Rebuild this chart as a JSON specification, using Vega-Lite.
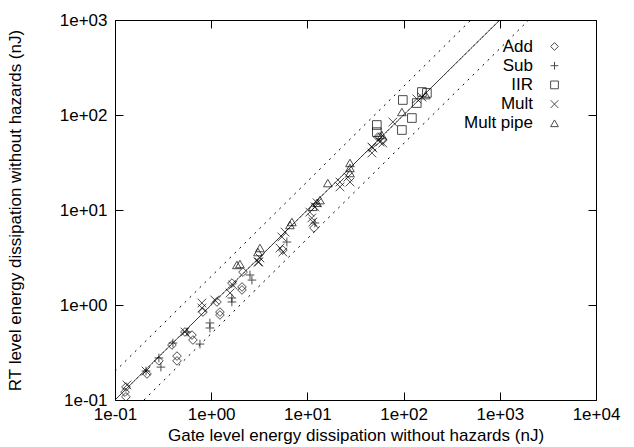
{
  "$schema": "https://vega.github.io/schema/vega-lite/v6.json",
  "autosize": {"type": "none"},
  "width": 481,
  "height": 380,
  "padding": {"left": 115, "top": 20, "right": 38, "bottom": 47},
  "background": "white",
  "config": {
    "view": {"stroke": "black", "strokeWidth": 1},
    "font": "Liberation Sans",
    "axis": {
      "domain": false, "grid": false, "tickColor": "black", "tickSize": -8, "tickWidth": 1, "labelFlush": false,
      "labelFont": "Liberation Sans", "labelFontSize": 17, "labelColor": "black",
      "titleFont": "Liberation Sans", "titleFontSize": 17, "titleFontWeight": "normal", "titleColor": "black"
    }
  },
  "datasets": {
    "refs": [
      {"line": "equal", "x": 0.1, "y": 0.1}, {"line": "equal", "x": 1000, "y": 1000},
      {"line": "upper", "x": 0.1, "y": 0.2}, {"line": "upper", "x": 500, "y": 1000},
      {"line": "lower", "x": 0.2, "y": 0.1}, {"line": "lower", "x": 2000, "y": 1000}
    ],
    "pts": [
      {"s": "Add", "x": 0.130, "y": 0.108}, {"s": "Add", "x": 0.127, "y": 0.121}, {"s": "Add", "x": 0.130, "y": 0.137},
      {"s": "Add", "x": 0.215, "y": 0.188}, {"s": "Add", "x": 0.286, "y": 0.258}, {"s": "Add", "x": 0.441, "y": 0.290},
      {"s": "Add", "x": 0.441, "y": 0.258}, {"s": "Add", "x": 0.391, "y": 0.379}, {"s": "Add", "x": 0.631, "y": 0.483},
      {"s": "Add", "x": 0.646, "y": 0.428}, {"s": "Add", "x": 0.533, "y": 0.52}, {"s": "Add", "x": 0.82, "y": 0.843},
      {"s": "Add", "x": 1.148, "y": 1.076}, {"s": "Add", "x": 1.233, "y": 0.843}, {"s": "Add", "x": 1.233, "y": 0.785},
      {"s": "Add", "x": 1.644, "y": 1.70}, {"s": "Add", "x": 2.09, "y": 1.547}, {"s": "Add", "x": 2.09, "y": 1.44},
      {"s": "Add", "x": 2.14, "y": 2.22}, {"s": "Add", "x": 5.56, "y": 3.79}, {"s": "Add", "x": 11.7, "y": 6.47},
      {"s": "Add", "x": 56.6, "y": 58.6}, {"s": "Add", "x": 60.8, "y": 54.5}, {"s": "Add", "x": 54, "y": 58.6},
      {"s": "Sub", "x": 0.21, "y": 0.202}, {"s": "Sub", "x": 0.30, "y": 0.222}, {"s": "Sub", "x": 0.286, "y": 0.277},
      {"s": "Sub", "x": 0.40, "y": 0.398}, {"s": "Sub", "x": 0.56, "y": 0.52}, {"s": "Sub", "x": 0.764, "y": 0.388},
      {"s": "Sub", "x": 0.97, "y": 0.647}, {"s": "Sub", "x": 0.97, "y": 0.573}, {"s": "Sub", "x": 1.64, "y": 1.186},
      {"s": "Sub", "x": 1.64, "y": 1.076}, {"s": "Sub", "x": 2.53, "y": 2.07}, {"s": "Sub", "x": 2.65, "y": 1.83},
      {"s": "Sub", "x": 6.12, "y": 4.6}, {"s": "Sub", "x": 11.97, "y": 7.3},
      {"s": "IIR", "x": 174.6, "y": 170.6}, {"s": "IIR", "x": 155, "y": 174.6}, {"s": "IIR", "x": 137, "y": 133.6},
      {"s": "IIR", "x": 98.2, "y": 143.9}, {"s": "IIR", "x": 121.9, "y": 92.9}, {"s": "IIR", "x": 96, "y": 69.5},
      {"s": "IIR", "x": 52.7, "y": 78.5}, {"s": "IIR", "x": 52.7, "y": 66},
      {"s": "Mult", "x": 0.133, "y": 0.144}, {"s": "Mult", "x": 0.21, "y": 0.202}, {"s": "Mult", "x": 0.533, "y": 0.52},
      {"s": "Mult", "x": 0.80, "y": 1.05}, {"s": "Mult", "x": 0.80, "y": 0.93}, {"s": "Mult", "x": 1.09, "y": 1.13},
      {"s": "Mult", "x": 1.57, "y": 1.34}, {"s": "Mult", "x": 1.68, "y": 1.62}, {"s": "Mult", "x": 3.13, "y": 2.84},
      {"s": "Mult", "x": 3.21, "y": 3.13}, {"s": "Mult", "x": 3.06, "y": 2.84}, {"s": "Mult", "x": 5.84, "y": 5.86},
      {"s": "Mult", "x": 5.43, "y": 5.2}, {"s": "Mult", "x": 5.18, "y": 3.98}, {"s": "Mult", "x": 5.56, "y": 3.61},
      {"s": "Mult", "x": 10.6, "y": 9.5}, {"s": "Mult", "x": 11.1, "y": 8.24}, {"s": "Mult", "x": 11.4, "y": 7.48},
      {"s": "Mult", "x": 12.6, "y": 11.9}, {"s": "Mult", "x": 12.0, "y": 10.8}, {"s": "Mult", "x": 21.8, "y": 19.7},
      {"s": "Mult", "x": 21.8, "y": 17.5}, {"s": "Mult", "x": 26.4, "y": 22.2}, {"s": "Mult", "x": 27.7, "y": 19.7},
      {"s": "Mult", "x": 46.8, "y": 46}, {"s": "Mult", "x": 46.8, "y": 39.8}, {"s": "Mult", "x": 56.6, "y": 52},
      {"s": "Mult", "x": 60.8, "y": 50.7}, {"s": "Mult", "x": 47.9, "y": 45}, {"s": "Mult", "x": 77.3, "y": 84.4},
      {"s": "Mult", "x": 137, "y": 148}, {"s": "Mult", "x": 155, "y": 154.5},
      {"s": "Mult pipe", "x": 1.85, "y": 2.64}, {"s": "Mult pipe", "x": 1.99, "y": 2.7}, {"s": "Mult pipe", "x": 3.21, "y": 3.98},
      {"s": "Mult pipe", "x": 3.06, "y": 3.61}, {"s": "Mult pipe", "x": 6.9, "y": 7.48}, {"s": "Mult pipe", "x": 6.58, "y": 6.95},
      {"s": "Mult pipe", "x": 12.6, "y": 11.9}, {"s": "Mult pipe", "x": 11.4, "y": 10.8}, {"s": "Mult pipe", "x": 13.5, "y": 12.7},
      {"s": "Mult pipe", "x": 16.3, "y": 19.2}, {"s": "Mult pipe", "x": 27.7, "y": 31.3}, {"s": "Mult pipe", "x": 27.7, "y": 27.7},
      {"s": "Mult pipe", "x": 27.7, "y": 24.5}, {"s": "Mult pipe", "x": 59.4, "y": 61.5}, {"s": "Mult pipe", "x": 96, "y": 107.6},
      {"s": "Mult pipe", "x": 170, "y": 162}
    ]
  },
  "layer": [
    {
      "data": {"name": "refs"},
      "mark": {"type": "line", "color": "black", "strokeWidth": 1, "clip": true},
      "encoding": {
        "x": {"field": "x", "type": "quantitative", "scale": {"type": "log", "domain": [0.1, 10000], "nice": false},
              "axis": {"orient": "top", "values": [0.1, 1, 10, 100, 1000, 10000], "labels": false, "title": null}},
        "y": {"field": "y", "type": "quantitative", "scale": {"type": "log", "domain": [0.1, 1000], "nice": false},
              "axis": {"orient": "right", "values": [0.1, 1, 10, 100, 1000], "labels": false, "title": null}},
        "detail": {"field": "line", "type": "nominal"},
        "strokeDash": {"field": "line", "type": "nominal", "scale": {"domain": ["equal", "upper", "lower"], "range": [[1, 0], [2, 5], [2, 5]]}, "legend": null}
      }
    },
    {
      "data": {"name": "pts"},
      "mark": {"type": "point", "filled": false, "stroke": "black", "strokeWidth": 1, "size": 75, "clip": true},
      "encoding": {
        "x": {"field": "x", "type": "quantitative",
              "axis": {"orient": "bottom", "values": [0.1, 1, 10, 100, 1000, 10000], "labelPadding": 14,
                       "labelExpr": "'1e' + (log(datum.value)/LN10 < -0.5 ? '-' : '+') + '0' + abs(round(log(datum.value)/LN10))",
                       "title": "Gate level energy dissipation without hazards (nJ)", "titlePadding": 5}},
        "y": {"field": "y", "type": "quantitative",
              "axis": {"orient": "left", "values": [0.1, 1, 10, 100, 1000], "labelPadding": 16,
                       "labelExpr": "'1e' + (log(datum.value)/LN10 < -0.5 ? '-' : '+') + '0' + abs(round(log(datum.value)/LN10))",
                       "title": "RT level energy dissipation without hazards (nJ)", "titlePadding": 35}},
        "shape": {"field": "s", "type": "nominal",
                  "scale": {"domain": ["Add", "Sub", "IIR", "Mult", "Mult pipe"],
                            "range": ["diamond", "M-1,0L1,0M0,-1L0,1", "square", "M-1,-1L1,1M-1,1L1,-1", "triangle-up"]},
                  "legend": {"title": null, "orient": "none", "legendX": 431, "legendY": 18,
                             "labelFont": "Liberation Sans", "labelFontSize": 17, "labelColor": "black",
                             "labelAlign": "right", "labelOffset": -30, "rowPadding": 1.2,
                             "symbolStrokeColor": "black", "symbolFillColor": "transparent", "symbolStrokeWidth": 1, "symbolSize": 60}}
      }
    }
  ],
  "resolve": {"axis": {"x": "independent", "y": "independent"}}
}
